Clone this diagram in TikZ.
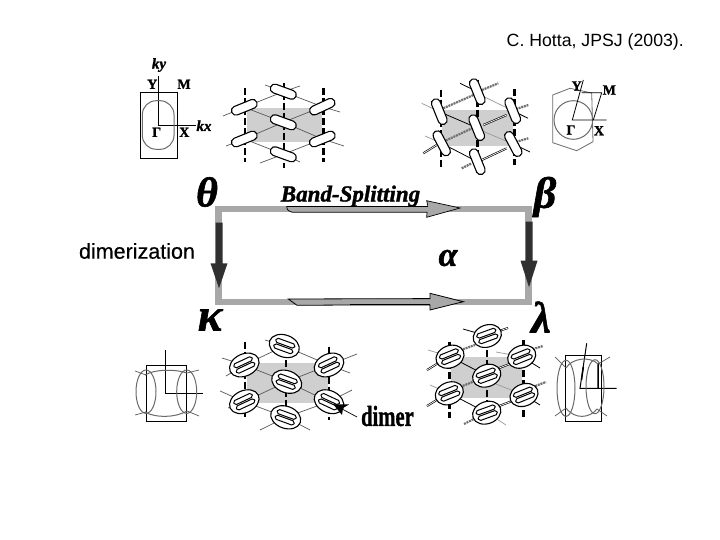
\documentclass[tikz,border=0pt]{standalone}
\usepackage{fontspec}
\setmainfont{Liberation Sans}
\newfontfamily\semib[FakeBold=.35]{Liberation Sans}
\newfontfamily\lbl[BoldFeatures={FakeBold=1.2},BoldItalicFeatures={FakeBold=1.4}]{Liberation Serif}
\definecolor{cellfill}{HTML}{CFCFCF}
\definecolor{frameg}{HTML}{A8A8A8}
\definecolor{dkarrow}{HTML}{303030}
\definecolor{fsg}{HTML}{6A6A6A}
\definecolor{stripeg}{HTML}{707070}
\tikzset{
  sym/.style={font=\lbl\bfseries\fontsize{14}{14}\selectfont,inner sep=0pt,text=black},
  symit/.style={font=\lbl\bfseries\itshape\fontsize{15}{15}\selectfont,inner sep=0pt,text=black},
  greek/.style={inner sep=0pt,text=black},
  fs/.style={draw=fsg,line width=1pt},
  bz/.style={draw=black,line width=1pt},
  net/.style={draw=black!65,line width=.7pt},
  lnet/.style={draw=black!40,line width=.7pt},
  stack/.style={draw=black,line width=2.4pt,dash pattern=on 7pt off 3pt},
  gstripe/.style={draw=stripeg,line width=2.2pt,dash pattern=on 2pt off .8pt},
  bstripe/.style={draw=black,line width=2pt,postaction={draw=white,line width=.7pt}},
  thinb/.style={draw=black,line width=.8pt},
  dimerell/.style={draw=black,fill=white,line width=1.1pt},
}
\newcommand{\mol}[3]{\draw[fill=white,draw=black,line width=1.1pt,rounded corners=4.3pt,shift={(#1,#2)},rotate=#3] (-13.5,-4.5) rectangle (13.5,4.5);}
\newcommand{\dimr}[5]{\begin{scope}[shift={(#1,#2)},rotate=#3]
  \draw[dimerell] (0,0) ellipse [x radius=#4,y radius=#5];
  \draw[black,line width=1pt,rounded corners=1.8pt,fill=white] (-10,-5.2) rectangle (10,-.8);
  \draw[black,line width=1pt,rounded corners=1.8pt,fill=white] (-10,.8) rectangle (10,5.2);
\end{scope}}
\begin{document}
\begin{tikzpicture}[x=1pt,y=-1pt]
\useasboundingbox (0,0) rectangle (720,540);
\fill[white] (0,0) rectangle (720,540);
% captions
\node[anchor=east,inner sep=0pt,font=\fontsize{17.7}{19}\selectfont] (cite) at (684,42) {C. Hotta, JPSJ (2003).};
\node[anchor=center,inner sep=0pt,font=\semib\fontsize{21.5}{23}\selectfont] (dim) at (137,251) {dimerization};

% top-left BZ
\draw[bz] (140.3,92.3) rectangle (177.3,158.3);
\draw[bz,line width=.8pt] (158.3,76) -- (158.3,125) -- (196,125);
\draw[fs,rounded corners=14pt] (142.3,100.7) rectangle (174,149.3);
\node[symit] (ky) at (159,65) {ky};
\node[sym] (Y1) at (152.3,84.3) {Y};
\node[sym] (M1) at (184,84.3) {M};
\node[sym] (G1) at (156.7,132.3) {Γ};
\node[sym] (X1) at (184.3,132.3) {X};
\node[symit] (kx) at (204,125.7) {kx};

% theta lattice
\fill[cellfill] (246.7,108.3) rectangle (322.3,142.3);
\draw[net] (283.3,91.7) -- (244.3,107.3) -- (283.3,122.3) -- (322.3,106.7) -- (283.3,91.7);
\draw[net] (283.3,122.3) -- (244.3,139) -- (283.3,154.3) -- (322.3,139) -- (283.3,122.3);
\draw[net] (244.3,107.3) -- (223,116) (322.3,106.7) -- (340,112) (244.3,139) -- (226,146) (322.3,139) -- (344,146) (283.3,154.3) -- (300,162) (283.3,154.3) -- (260,163) (283.3,91.7) -- (265,85) (283.3,91.7) -- (300,86);
\draw[stack] (245,88.3) -- (245,161.7);
\draw[stack] (284,82.7) -- (284,168);
\draw[stack] (323.3,88.3) -- (323.3,161.7);
\mol{283.3}{91.7}{-20}\mol{244.3}{107.3}{22}\mol{322.3}{106.7}{25}
\mol{283.3}{122.3}{-20}\mol{244.3}{139}{22}\mol{322.3}{139}{22}\mol{283.3}{154.3}{-20}

% beta lattice
\fill[cellfill] (441.7,110) rectangle (513.3,146);
\draw[lnet] (421.7,103.3) -- (439.3,111.7) (425,136) -- (441.7,143.3) (484,96.7) -- (512.7,110.7) (484,131.7) -- (513.3,144);
\draw[thinb] (439.3,111.7) -- (476.7,127.7) (441.7,143.3) -- (477.3,161.7) (460,83.3) -- (477.3,91.7) (512.7,110.7) -- (528,118.3) (513.3,144) -- (530,152);
\draw[stack] (440.7,90) -- (440.7,166.7);
\draw[stack] (477.3,80) -- (477.3,173);
\draw[stack] (514.3,89.3) -- (514.3,165);
\draw[gstripe] (443.3,108.3) -- (477.3,93.3);
\draw[gstripe] (443.3,141.7) -- (472,128.3);
\draw[gstripe] (513.3,110) -- (528.3,105);
\draw[gstripe] (513.3,142.7) -- (528.3,138.3);
\draw[gstripe] (461.7,168.3) -- (471.7,163.3);
\draw[gstripe] (482,90) -- (498.3,83.3);
\draw[bstripe] (483.3,125) -- (506.7,115);
\draw[bstripe] (481.7,160) -- (506.7,148.3);
\draw[bstripe] (423.3,153.3) -- (436.7,145);
\mol{477.3}{91.7}{-68}\mol{439.3}{111.7}{-68}\mol{512.7}{110.7}{-68}
\mol{476.7}{127.7}{-68}\mol{441.7}{143.3}{-62}\mol{513.3}{144}{-62}\mol{477.3}{161.7}{-68}

% top-right BZ
\draw[fs,line width=.8pt] (552.7,95) -- (570,88.3) -- (591.7,93) -- (593,141.7) -- (576.7,150.7) -- (552.7,142.7) -- cycle;
\draw[fs] (573.3,120) circle [radius=19.3];
\draw[bz,line width=.8pt] (606.7,120) -- (572.3,120) -- (583.3,80);
\draw[bz,line width=.8pt] (581.7,92.7) -- (601.7,92.7) -- (593.3,120);
\node[sym] (Y2) at (576.7,86) {Y};
\node[sym] (M2) at (609.3,90) {M};
\node[sym] (G2) at (571,130) {Γ};
\node[sym] (X2) at (599,130.7) {X};

% frame
\draw[frameg,line width=6.4pt] (218.3,209.3) rectangle (528.3,301.7);
\coordinate (ltop) at (219,222.7);
\coordinate (lbot) at (219,288.3);
\coordinate (rtop) at (529,221.7);
\coordinate (rbot) at (529,287.3);
\fill[dkarrow] (215.5,222.7) -- (222.5,222.7) -- (222.5,263.3) -- (227.5,263.3) -- (lbot) -- (210.5,263.3) -- (215.5,263.3) -- cycle;
\fill[dkarrow] (525.5,221.7) -- (532.5,221.7) -- (532.5,260.7) -- (537.5,260.7) -- (rbot) -- (520.5,260.7) -- (525.5,260.7) -- cycle;

% horizontal arrows
\coordinate (tip1) at (460,208);
\coordinate (tip2) at (463.3,301.7);
\filldraw[fill=frameg,draw=black,line width=.7pt] (286.7,206.5) .. controls (287,210) and (289,212) .. (292,212.2) -- (427,212.2) -- (426.7,217.3) -- (tip1) -- (426.7,200.7) -- (428,206.5) -- cycle;
\draw[frameg,line width=2.5pt] (290,208.2) -- (428,208.2);
\fill[frameg] (428,204) -- (456,208) -- (428,214) -- cycle;
\filldraw[fill=frameg,draw=black,line width=.8pt] (288.3,299) -- (430,298.6) -- (430,293.3) -- (tip2) -- (430,310) -- (430,305) -- (350,305) -- (297,305.3) -- cycle;
\draw[black,line width=1.1pt] (350,304.2) -- (430,304.2);

% Greek and heading
\node[greek,font=\lbl\bfseries\itshape\fontsize{42}{42}\selectfont] (theta) at (207,192) {θ};
\node[greek,font=\lbl\bfseries\itshape\fontsize{44}{44}\selectfont] (beta) at (545,197) {β};
\node[greek,font=\lbl\bfseries\itshape\fontsize{34}{34}\selectfont] (alpha) at (448,258) {α};
\node[greek,font=\lbl\bfseries\itshape\fontsize{46}{46}\selectfont] (kappa) at (210,320) {κ};
\node[greek,font=\lbl\bfseries\itshape\fontsize{44}{44}\selectfont] (lambda) at (541,317) {λ};
\node[inner sep=0pt,font=\lbl\bfseries\itshape\fontsize{23}{23}\selectfont] (band) at (350.5,196) {Band-Splitting};

% kappa BZ
\draw[bz] (146.7,365) rectangle (186.7,421);
\draw[bz,line width=1pt] (165.7,350) -- (165.7,393.3) -- (202.7,393.3);
\draw[fs] (146,391.7) ellipse [x radius=10,y radius=21.7];
\draw[fs] (186.7,391.7) ellipse [x radius=10,y radius=21.7];
\draw[fs] (145,375) .. controls (155,369) and (175,369) .. (187,373);
\draw[fs] (145,412) .. controls (155,418) and (175,418) .. (187,411);
\draw[net] (135,371) -- (146,375) (187,373) -- (199,370) (135,415) -- (146,412) (187,411) -- (199,416);

% kappa lattice
\fill[cellfill] (246.7,363.3) rectangle (328,402.7);
\draw[net] (284.3,346) -- (244.3,365) -- (286.7,381.7) -- (329,365) -- (284.3,346);
\draw[net] (286.7,381.7) -- (244.3,401.7) -- (285.7,417.3) -- (329,401.7) -- (286.7,381.7);
\draw[net] (244.3,365) -- (222,358) (244.3,365) -- (226,376) (244.3,401.7) -- (220,391) (244.3,401.7) -- (228,408) (329,365) -- (357,354) (329,365) -- (350,373) (329,401.7) -- (352,390) (284.3,346) -- (265,340) (285.7,417.3) -- (260,430) (285.7,417.3) -- (310,430);
\draw[stack] (245,341.7) -- (245,416.7);
\draw[stack] (285.7,340) -- (285.7,425);
\draw[stack] (329,346.7) -- (329,420);
\dimr{284.3}{346}{-20}{15.5}{11}\dimr{244.3}{365}{25}{15.5}{11}\dimr{329}{365}{25}{15.5}{11}
\dimr{286.7}{381.7}{-20}{15.5}{11}\dimr{244.3}{401.7}{25}{15.5}{11}\dimr{329}{401.7}{-25}{15.5}{11}\dimr{285.7}{417.3}{-20}{15.5}{11}

% dimer label and arrow
\node[inner sep=0pt,anchor=west,xscale=.71,font=\lbl\bfseries\fontsize{29}{29}\selectfont] (dl) at (361,416) {dimer};
\coordinate (dtip) at (333.3,404.3);
\draw[black,line width=.7pt] (dtip) -- (357,417);
\fill[black] (dtip) -- (349,404.5) -- (343,408) -- (342,415) -- cycle;

% lambda lattice
\fill[cellfill] (450.7,356.7) rectangle (521.7,398.3);
\draw[lnet] (428,350) -- (450,356.7) (430,385) -- (449.3,393.3) (496,352) -- (521.7,356.7) (496,384) -- (524,395) (487,412.7) -- (506,425);
\draw[thinb] (450,356.7) -- (486.7,375.7) (449.3,393.3) -- (486.7,412.7) (463,329) -- (487.3,336) (521.7,356.7) -- (540,368) (524,395) -- (540,405);
\draw[stack] (449.3,341.7) -- (449.3,418);
\draw[stack] (486.7,350) -- (486.7,420);
\draw[stack] (523.3,340) -- (523.3,418);
\draw[gstripe] (455,352) -- (475,345);
\draw[gstripe] (455,389) -- (475,381);
\draw[gstripe] (530,350) -- (543,346);
\draw[gstripe] (530,388) -- (546,382);
\draw[gstripe] (464,424) -- (478,417);
\draw[bstripe] (496,332) -- (508,328);
\draw[bstripe] (494,370) -- (520,360);
\draw[bstripe] (494,408) -- (520,398);
\draw[bstripe] (427,370) -- (440,362);
\draw[bstripe] (427,406) -- (440,398);
\dimr{487.3}{336}{20}{14.5}{11}\dimr{450}{356.7}{22}{14.5}{11}\dimr{521.7}{356.7}{22}{14.5}{11}
\dimr{486.7}{375.7}{20}{14.5}{11}\dimr{449.3}{393.3}{22}{14.5}{11}\dimr{524}{395}{22}{14.5}{11}\dimr{486.7}{412.7}{20}{14.5}{11}

% lambda BZ
\draw[bz] (565.7,355) rectangle (601.7,421.7);
\draw[bz] (616.7,388.3) -- (580,388.3) -- (586.7,343.3);
\draw[bz,line width=1.5pt] (583.3,367) -- (581.5,380) (598,363) -- (598,388);
\draw[fs] (566,388.3) ellipse [x radius=9,y radius=28];
\draw[fs] (595,386.7) ellipse [x radius=9,y radius=27];
\draw[fs] (566,368) .. controls (572,358) and (590,356) .. (598,364);
\draw[fs] (566,408) .. controls (575,420) and (590,418) .. (597,409);
\draw[net] (555,357) -- (566,368) (598,364) -- (610,357) (555,416) -- (566,408) (597,409) -- (607,416);
\end{tikzpicture}
\end{document}
